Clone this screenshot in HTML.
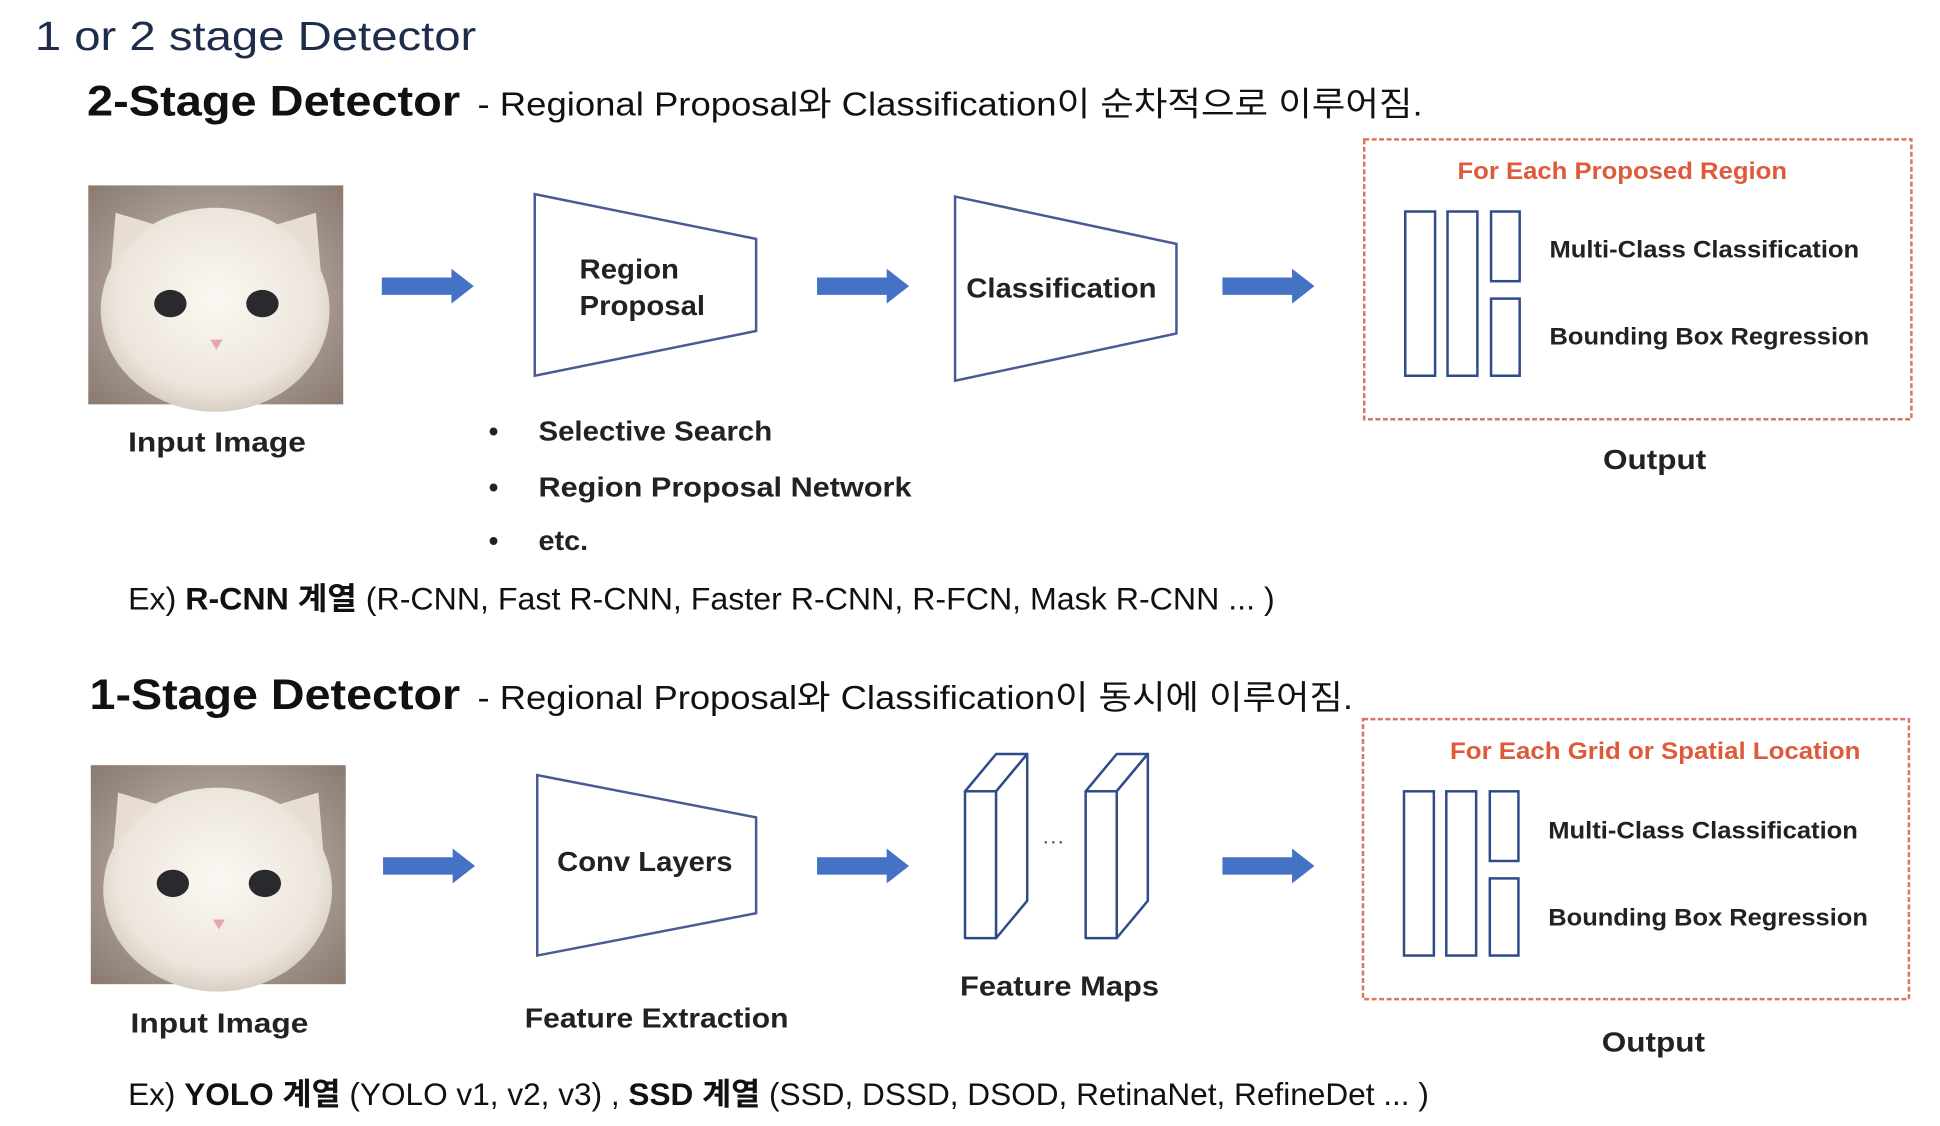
<!DOCTYPE html>
<html><head><meta charset="utf-8"><style>
html,body{margin:0;padding:0;background:#fff;}
svg{display:block;}
text{font-family:"Liberation Sans","Noto Sans CJK KR",sans-serif;}
</style></head><body>
<svg width="1940" height="1126" viewBox="0 0 1560 905" preserveAspectRatio="none" xmlns="http://www.w3.org/2000/svg">
<defs>
<radialGradient id="bg" cx="50%" cy="50%" r="70%">
<stop offset="0" stop-color="#cfc6bd"/><stop offset="1" stop-color="#8a7a70"/>
</radialGradient>
<radialGradient id="face" cx="50%" cy="45%" r="55%">
<stop offset="0" stop-color="#fbf8f3"/><stop offset="0.8" stop-color="#ece5dc"/><stop offset="1" stop-color="#d8cfc4"/>
</radialGradient>
<g id="cat">
<rect x="0" y="0" width="205" height="176" fill="url(#bg)"/>
<path d="M18 70 L22 22 L62 34 Z" fill="#e8ddd3"/>
<path d="M187 70 L183 22 L143 34 Z" fill="#e8ddd3"/>
<ellipse cx="102" cy="100" rx="92" ry="82" fill="url(#face)"/>
<ellipse cx="66" cy="95" rx="13" ry="11" fill="#2a2a2e"/>
<ellipse cx="140" cy="95" rx="13" ry="11" fill="#2a2a2e"/>
<path d="M98 124 L108 124 L103 132 Z" fill="#e3a9a6"/>
</g>
<g id="arr"><path d="M0 -7 L56 -7 L56 -14 L74 0 L56 14 L56 7 L0 7 Z" fill="#4472c4"/></g>
</defs>

<text x="28" y="40" font-size="33" fill="#1f2d4d" textLength="355" lengthAdjust="spacingAndGlyphs">1 or 2 stage Detector</text>

<text x="70" y="93" font-size="34" font-weight="bold" fill="#111" textLength="300" lengthAdjust="spacingAndGlyphs">2-Stage Detector</text>
<text x="384" y="93" font-size="27" fill="#111" textLength="760" lengthAdjust="spacingAndGlyphs">- Regional Proposal와 Classification이 순차적으로 이루어짐.</text>

<use href="#cat" x="71" y="149"/>
<use href="#arr" x="307" y="230"/>
<polygon points="430,156 608,192 608,266 430,302" fill="#fff" stroke="#4a5a95" stroke-width="2"/>
<text x="466" y="224" font-size="22" font-weight="bold" fill="#222" textLength="80" lengthAdjust="spacingAndGlyphs">Region</text>
<text x="466" y="253" font-size="22" font-weight="bold" fill="#222" textLength="101" lengthAdjust="spacingAndGlyphs">Proposal</text>
<use href="#arr" x="657" y="230"/>
<polygon points="768,158 946,196 946,268 768,306" fill="#fff" stroke="#4a5a95" stroke-width="2"/>
<text x="777" y="239" font-size="22" font-weight="bold" fill="#222" textLength="153" lengthAdjust="spacingAndGlyphs">Classification</text>
<use href="#arr" x="983" y="230"/>

<rect x="1097" y="112" width="440" height="225" fill="none" stroke="#d9775e" stroke-width="2" stroke-dasharray="4,2"/>
<text x="1172" y="144" font-size="19" font-weight="bold" fill="#dd5b3a" textLength="265" lengthAdjust="spacingAndGlyphs">For Each Proposed Region</text>
<g fill="none" stroke="#2f4b8a" stroke-width="2">
<rect x="1130" y="170" width="24" height="132"/><rect x="1164" y="170" width="24" height="132"/>
<rect x="1199" y="170" width="23" height="56"/><rect x="1199" y="240" width="23" height="62"/>
</g>
<text x="1246" y="207" font-size="19" font-weight="bold" fill="#222" textLength="249" lengthAdjust="spacingAndGlyphs">Multi-Class Classification</text>
<text x="1246" y="277" font-size="19" font-weight="bold" fill="#222" textLength="257" lengthAdjust="spacingAndGlyphs">Bounding Box Regression</text>

<text x="103" y="363" font-size="22" font-weight="bold" fill="#222" textLength="143" lengthAdjust="spacingAndGlyphs">Input Image</text>
<text x="1289" y="377" font-size="22" font-weight="bold" fill="#222" textLength="83" lengthAdjust="spacingAndGlyphs">Output</text>
<g font-size="22" font-weight="bold" fill="#222">
<text x="393" y="354">•</text><text x="433" y="354" textLength="188" lengthAdjust="spacingAndGlyphs">Selective Search</text>
<text x="393" y="399">•</text><text x="433" y="399" textLength="300" lengthAdjust="spacingAndGlyphs">Region Proposal Network</text>
<text x="393" y="442">•</text><text x="433" y="442" textLength="40" lengthAdjust="spacingAndGlyphs">etc.</text>
</g>
<text x="103" y="490" font-size="25" fill="#111" textLength="922" lengthAdjust="spacingAndGlyphs">Ex) <tspan font-weight="bold">R-CNN 계열</tspan> (R-CNN, Fast R-CNN, Faster R-CNN, R-FCN, Mask R-CNN ... )</text>

<text x="72" y="570" font-size="34" font-weight="bold" fill="#111" textLength="298" lengthAdjust="spacingAndGlyphs">1-Stage Detector</text>
<text x="384" y="570" font-size="27" fill="#111" textLength="704" lengthAdjust="spacingAndGlyphs">- Regional Proposal와 Classification이 동시에 이루어짐.</text>

<use href="#cat" x="73" y="615"/>
<use href="#arr" x="308" y="696"/>
<polygon points="432,623 608,657 608,734 432,768" fill="#fff" stroke="#4a5a95" stroke-width="2"/>
<text x="448" y="700" font-size="22" font-weight="bold" fill="#222" textLength="141" lengthAdjust="spacingAndGlyphs">Conv Layers</text>
<use href="#arr" x="657" y="696"/>
<g fill="#fff" stroke="#2f4b8a" stroke-width="2" stroke-linejoin="round">
<polygon points="776,636 801,636 826,606 801,606"/>
<rect x="776" y="636" width="25" height="118"/>
<polygon points="801,636 826,606 826,724 801,754"/>
<polygon points="873,636 898,636 923,606 898,606"/>
<rect x="873" y="636" width="25" height="118"/>
<polygon points="898,636 923,606 923,724 898,754"/>
</g>
<text x="838" y="682" font-size="18" fill="#555">···</text>
<use href="#arr" x="983" y="696"/>

<rect x="1096" y="578" width="439" height="225" fill="none" stroke="#d9775e" stroke-width="2" stroke-dasharray="4,2"/>
<text x="1166" y="610" font-size="19" font-weight="bold" fill="#dd5b3a" textLength="330" lengthAdjust="spacingAndGlyphs">For Each Grid or Spatial Location</text>
<g fill="none" stroke="#2f4b8a" stroke-width="2">
<rect x="1129" y="636" width="24" height="132"/><rect x="1163" y="636" width="24" height="132"/>
<rect x="1198" y="636" width="23" height="56"/><rect x="1198" y="706" width="23" height="62"/>
</g>
<text x="1245" y="674" font-size="19" font-weight="bold" fill="#222" textLength="249" lengthAdjust="spacingAndGlyphs">Multi-Class Classification</text>
<text x="1245" y="744" font-size="19" font-weight="bold" fill="#222" textLength="257" lengthAdjust="spacingAndGlyphs">Bounding Box Regression</text>

<text x="772" y="800" font-size="22" font-weight="bold" fill="#222" textLength="160" lengthAdjust="spacingAndGlyphs">Feature Maps</text>
<text x="422" y="826" font-size="22" font-weight="bold" fill="#222" textLength="212" lengthAdjust="spacingAndGlyphs">Feature Extraction</text>
<text x="105" y="830" font-size="22" font-weight="bold" fill="#222" textLength="143" lengthAdjust="spacingAndGlyphs">Input Image</text>
<text x="1288" y="845" font-size="22" font-weight="bold" fill="#222" textLength="83" lengthAdjust="spacingAndGlyphs">Output</text>

<text x="103" y="888" font-size="25" fill="#111" textLength="1046" lengthAdjust="spacingAndGlyphs">Ex) <tspan font-weight="bold">YOLO 계열</tspan> (YOLO v1, v2, v3) , <tspan font-weight="bold">SSD 계열</tspan> (SSD, DSSD, DSOD, RetinaNet, RefineDet ... )</text>
</svg>
</body></html>
